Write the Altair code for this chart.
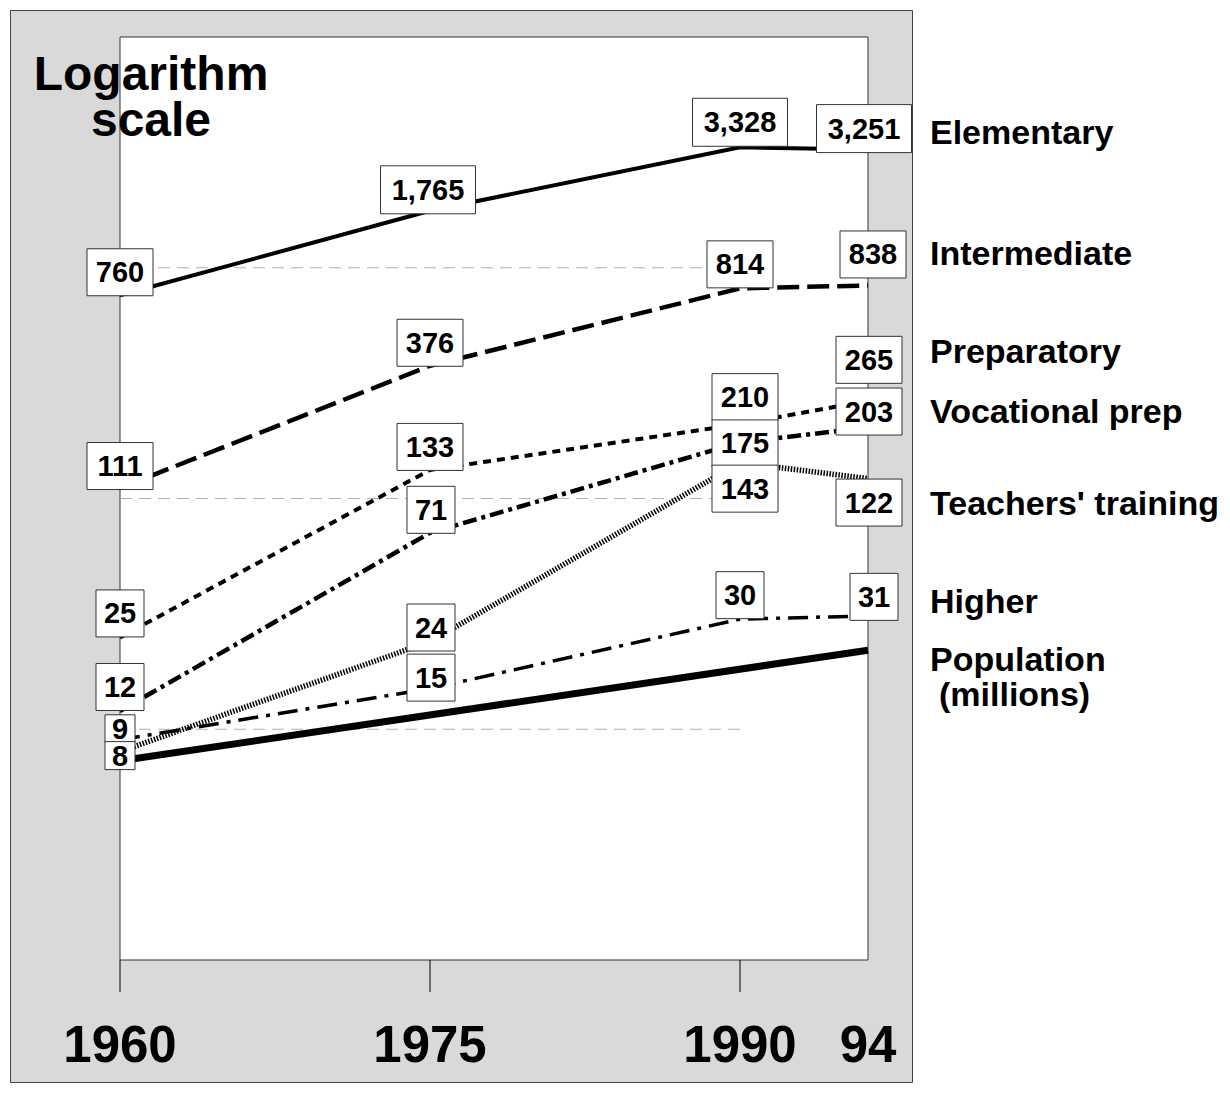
import altair as alt
import pandas as pd

# ---------------- data ----------------
years = [1960, 1975, 1990, 1994]
series_names = ["Elementary", "Intermediate", "Preparatory", "Vocational prep",
                "Teachers' training", "Higher"]
elementary = [760, 1765, 3328, 3251]
intermediate = [111, 376, 814, 838]
preparatory = [25, 133, 210, 265]
vocational = [12, 71, 175, 203]
teachers = [8, 24, 143, 122]
higher = [9, 15, 30, 31]
population_years = [1960, 1994]
population = [7.3, 22]
grid_values = [10, 100, 1000]
tick_years = [1960, 1975, 1990, 1994]
tick_labels = ["1960", "1975", "1990", "94"]
tick_mark_years = [1960, 1975, 1990]
frame_years = [1960, 1994]
frame_values = [1, 10000]
title_text = "Logarithm\nscale"
population_label = ["Population", "(millions)"]

series_values = [elementary, intermediate, preparatory, vocational, teachers, higher]

# ---------------- layout / style tables ----------------
FONT = "Liberation Sans"
# label box nudges (px) relative to the data point: (dx, dy)
box_nudge = {
    ("Elementary", 1960): (0, -23), ("Elementary", 1975): (-2, -21),
    ("Elementary", 1990): (0, -25), ("Elementary", 1994): (-4, -21),
    ("Intermediate", 1960): (0, -22), ("Intermediate", 1975): (0, -23),
    ("Intermediate", 1990): (0, -24), ("Intermediate", 1994): (5, -31),
    ("Preparatory", 1960): (0, -24), ("Preparatory", 1975): (0, -23),
    ("Preparatory", 1990): (5, -27), ("Preparatory", 1994): (1, -41),
    ("Vocational prep", 1960): (0, -24), ("Vocational prep", 1975): (1, -23),
    ("Vocational prep", 1990): (5, 1), ("Vocational prep", 1994): (1, -16),
    ("Teachers' training", 1960): (0, 4), ("Teachers' training", 1975): (1, -14),
    ("Teachers' training", 1990): (5, 26), ("Teachers' training", 1994): (1, 24),
    ("Higher", 1960): (0, -11), ("Higher", 1975): (1, -11),
    ("Higher", 1990): (0, -24), ("Higher", 1994): (6, -19),
}
box_size = {1: (30, 28), 2: (48, 47), 3: (66, 47), 5: (95, 48)}
right_label_dy = {
    "Elementary": -16, "Intermediate": -30, "Preparatory": -48,
    "Vocational prep": -15, "Teachers' training": 26, "Higher": -13,
}
line_style = {
    "Elementary": dict(strokeWidth=4),
    "Intermediate": dict(strokeWidth=4.5, strokeDash=[22, 8]),
    "Preparatory": dict(strokeWidth=4, strokeDash=[8, 6]),
    "Vocational prep": dict(strokeWidth=4.5, strokeDash=[14, 5, 4, 5]),
    "Teachers' training": dict(strokeWidth=5.5, strokeDash=[1.5, 1.5]),
    "Higher": dict(strokeWidth=3.5, strokeDash=[20, 8, 4, 8]),
}

# ---------------- tables ----------------
rows = []
for name, vals in zip(series_names, series_values):
    for yr, v in zip(years, vals):
        lab = f"{v:,}"
        w, h = box_size[len(lab)]
        dx, dy = box_nudge[(name, yr)]
        rows.append(dict(series=name, year=yr, value=v, label=lab,
                         path=f"M{-w/2},{-h/2}H{w/2}V{h/2}H{-w/2}Z",
                         dx=dx, dy=dy))
df = pd.DataFrame(rows)
pop_df = pd.DataFrame({"year": population_years, "value": population})
frame_df = pd.DataFrame({"x": [frame_years[0]], "x2": [frame_years[1]],
                         "y": [frame_values[0]], "y2": [frame_values[1]]})
grid_df = pd.DataFrame({"x": [tick_years[0]] * len(grid_values),
                        "x2": [tick_years[2]] * len(grid_values),
                        "y": grid_values})
tick_df = pd.DataFrame({"year": tick_years, "label": tick_labels})
tick_mark_df = pd.DataFrame({"year": tick_mark_years})

x_scale = alt.Scale(domain=tick_years, range=[110, 420, 730, 858], nice=False, zero=False)
y_scale = alt.Scale(type="log", domain=frame_values, range=[950, 27], nice=False)

layers = []

# white plot frame
layers.append(
    alt.Chart(frame_df).mark_rect(fill="white", stroke="#333", strokeWidth=1).encode(
        x=alt.X("x:Q", scale=x_scale, axis=None),
        x2="x2:Q",
        y=alt.Y("y:Q", scale=y_scale, axis=None),
        y2="y2:Q",
    )
)

# x ticks below the frame and their labels
layers.append(
    alt.Chart(tick_mark_df).mark_rule(color="black", strokeWidth=1).encode(
        x=alt.X("year:Q", scale=x_scale, axis=None),
        y=alt.value(950), y2=alt.value(982),
    )
)
layers.append(
    alt.Chart(tick_df).mark_text(font=FONT, fontSize=51, fontWeight="bold", color="black",
                                 align="center", baseline="alphabetic").encode(
        x=alt.X("year:Q", scale=x_scale, axis=None),
        y=alt.value(1052),
        text="label:N",
    )
)

# dashed gridlines
layers.append(
    alt.Chart(grid_df).mark_rule(color="#b0b0b0", strokeDash=[12, 7], strokeWidth=1).encode(
        x=alt.X("x:Q", scale=x_scale, axis=None),
        x2="x2:Q",
        y=alt.Y("y:Q", scale=y_scale, axis=None),
    )
)

# population line
layers.append(
    alt.Chart(pop_df).mark_line(color="black", strokeWidth=7).encode(
        x=alt.X("year:Q", scale=x_scale, axis=None),
        y=alt.Y("value:Q", scale=y_scale, axis=None),
    )
)

# series lines
for name in series_names:
    layers.append(
        alt.Chart(df[df.series == name]).mark_line(color="black", **line_style[name]).encode(
            x=alt.X("year:Q", scale=x_scale, axis=None),
            y=alt.Y("value:Q", scale=y_scale, axis=None),
        )
    )

# label boxes and numbers
for (dx, dy), grp in df.groupby(["dx", "dy"]):
    dx, dy = int(dx), int(dy)
    base = alt.Chart(grp).encode(
        x=alt.X("year:Q", scale=x_scale, axis=None),
        y=alt.Y("value:Q", scale=y_scale, axis=None),
    )
    layers.append(
        base.mark_point(filled=True, fill="white", stroke="#333", strokeWidth=1,
                        size=4, opacity=1, fillOpacity=1, strokeOpacity=1,
                        xOffset=dx, yOffset=dy).encode(
            shape=alt.Shape("path:N", scale=None)
        )
    )
    layers.append(
        base.mark_text(font=FONT, fontSize=29, fontWeight="bold", color="black",
                       align="center", baseline="middle",
                       xOffset=dx, yOffset=dy + 1).encode(text="label:N")
    )

# series names at right
last = df[df.year == years[-1]]
for name in series_names:
    sub = last[last.series == name]
    layers.append(
        alt.Chart(sub).mark_text(font=FONT, fontSize=34, fontWeight="bold", color="black",
                                 align="left", baseline="middle",
                                 xOffset=62, yOffset=right_label_dy[name]).encode(
            x=alt.X("year:Q", scale=x_scale, axis=None),
            y=alt.Y("value:Q", scale=y_scale, axis=None),
            text="series:N",
        )
    )

# population label (two lines, second indented)
for txt, (ox, oy) in zip(population_label, [(62, 11), (71, 46)]):
    pl = pd.DataFrame({"year": [population_years[-1]], "value": [population[-1]],
                       "label": [txt]})
    layers.append(
        alt.Chart(pl).mark_text(font=FONT, fontSize=34, fontWeight="bold", color="black",
                                align="left", baseline="middle",
                                xOffset=ox, yOffset=oy).encode(
            x=alt.X("year:Q", scale=x_scale, axis=None),
            y=alt.Y("value:Q", scale=y_scale, axis=None),
            text="label:N",
        )
    )

# "Logarithm scale" note
title_df = pd.DataFrame({"t": [title_text]})
layers.append(
    alt.Chart(title_df).mark_text(font=FONT, fontSize=48, fontWeight="bold", color="black",
                                  align="center", baseline="alphabetic", lineBreak="\n",
                                  lineHeight=46).encode(
        x=alt.value(141), y=alt.value(80), text="t:N"
    )
)

chart = alt.layer(*layers).properties(
    width=902, height=1072,
    padding={"left": 2, "top": 2, "right": 310, "bottom": 2},
    autosize=alt.AutoSizeParams(type="none"),
    background="white",
).configure_view(fill="#d9d9d9", stroke="#444", strokeWidth=1)

chart.save("out.html", embed_options={"renderer": "svg", "actions": False})
